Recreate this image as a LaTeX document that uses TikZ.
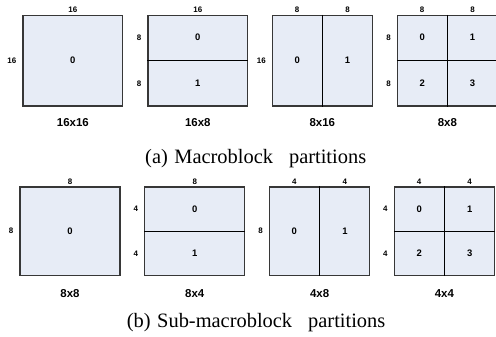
\documentclass[tikz,border=0pt]{standalone}
\usepackage{fontspec}
\setmainfont{Liberation Serif}
\newfontfamily\arialf{Liberation Sans}
\usetikzlibrary{calc}
\definecolor{blkfill}{RGB}{231,236,246}
\definecolor{blkedge}{RGB}{55,55,55}
\begin{document}
\begin{tikzpicture}[x=1bp,y=-1bp,
  blkA/.style={rectangle, draw=blkedge, line width=1.1bp, fill=blkfill, minimum width=99.7bp, minimum height=90.7bp, inner sep=0pt},
  blkB/.style={rectangle, draw=blkedge, line width=1.1bp, fill=blkfill, minimum width=100bp, minimum height=88.3bp, inner sep=0pt},
  divline/.style={draw=black, line width=0.9bp},
  num/.style={font=\arialf\bfseries\fontsize{9.5}{11}\selectfont, inner sep=0pt},
  dimlbl/.style={font=\arialf\bfseries\fontsize{8}{9}\selectfont, inner sep=0pt},
  toplbl/.style={dimlbl, above=2bp},
  leftlbl/.style={dimlbl, left=6bp},
  namelbl/.style={font=\arialf\bfseries\fontsize{11.5}{13}\selectfont, inner sep=0pt},
  captext/.style={font=\fontsize{20.5}{24}\selectfont, inner sep=0pt, anchor=base west}]
\fill[white] (0,0) rectangle (496,336);
\useasboundingbox (0,0) rectangle (496,336);

% ---------- top row ----------
\node[blkA] (T1) at (72.85,60.65) {};
\node[blkA] (T2) at (197.85,60.65) {};
\node[blkA] (T3) at (322.35,60.65) {};
\node[blkA] (T4) at (447.35,60.65) {};
\draw[divline] (T2.west) -- (T2.east);
\draw[divline] (T3.north) -- (T3.south);
\draw[divline] (T4.west) -- (T4.east);
\draw[divline] (T4.north) -- (T4.south);

% numbers
\node[num] (T1n0) at (T1.center) {0};
\node[num] (T2n0) at ($(T2.north)!0.5!(T2.center)$) {0};
\node[num] (T2n1) at ($(T2.south)!0.5!(T2.center)$) {1};
\node[num] (T3n0) at ($(T3.west)!0.5!(T3.center)$) {0};
\node[num] (T3n1) at ($(T3.east)!0.5!(T3.center)$) {1};
\node[num] (T4n0) at ($(T4.north west)!0.5!(T4.center)$) {0};
\node[num] (T4n1) at ($(T4.north east)!0.5!(T4.center)$) {1};
\node[num] (T4n2) at ($(T4.south west)!0.5!(T4.center)$) {2};
\node[num] (T4n3) at ($(T4.south east)!0.5!(T4.center)$) {3};

% dimension labels
\node[toplbl] (T1t) at (T1.north) {16};
\node[leftlbl] (T1l) at (T1.west) {16};
\node[toplbl] (T2t) at (T2.north) {16};
\node[leftlbl] (T2l0) at ($(T2.north west)!0.25!(T2.south west)$) {8};
\node[leftlbl] (T2l1) at ($(T2.north west)!0.75!(T2.south west)$) {8};
\node[toplbl] (T3t0) at ($(T3.north west)!0.25!(T3.north east)$) {8};
\node[toplbl] (T3t1) at ($(T3.north west)!0.75!(T3.north east)$) {8};
\node[leftlbl] (T3l) at (T3.west) {16};
\node[toplbl] (T4t0) at ($(T4.north west)!0.25!(T4.north east)$) {8};
\node[toplbl] (T4t1) at ($(T4.north west)!0.75!(T4.north east)$) {8};
\node[leftlbl] (T4l0) at ($(T4.north west)!0.25!(T4.south west)$) {8};
\node[leftlbl] (T4l1) at ($(T4.north west)!0.75!(T4.south west)$) {8};

% names
\node[namelbl] (T1name) at ($(T1.south)+(0,16)$) {16x16};
\node[namelbl] (T2name) at ($(T2.south)+(0,16)$) {16x8};
\node[namelbl] (T3name) at ($(T3.south)+(0,16)$) {8x16};
\node[namelbl] (T4name) at ($(T4.south)+(0,16)$) {8x8};

\node[captext] (capA) at (145,163) {(a)\hspace{6.5bp}Macroblock\hspace{16bp}partitions};

% ---------- bottom row ----------
\node[blkB] (B1) at (70,231.15) {};
\node[blkB] (B2) at (194.8,231.15) {};
\node[blkB] (B3) at (319.6,231.15) {};
\node[blkB] (B4) at (444.4,231.15) {};
\draw[divline] (B2.west) -- (B2.east);
\draw[divline] (B3.north) -- (B3.south);
\draw[divline] (B4.west) -- (B4.east);
\draw[divline] (B4.north) -- (B4.south);

\node[num] (B1n0) at (B1.center) {0};
\node[num] (B2n0) at ($(B2.north)!0.5!(B2.center)$) {0};
\node[num] (B2n1) at ($(B2.south)!0.5!(B2.center)$) {1};
\node[num] (B3n0) at ($(B3.west)!0.5!(B3.center)$) {0};
\node[num] (B3n1) at ($(B3.east)!0.5!(B3.center)$) {1};
\node[num] (B4n0) at ($(B4.north west)!0.5!(B4.center)$) {0};
\node[num] (B4n1) at ($(B4.north east)!0.5!(B4.center)$) {1};
\node[num] (B4n2) at ($(B4.south west)!0.5!(B4.center)$) {2};
\node[num] (B4n3) at ($(B4.south east)!0.5!(B4.center)$) {3};

\node[toplbl] (B1t) at (B1.north) {8};
\node[leftlbl] (B1l) at (B1.west) {8};
\node[toplbl] (B2t) at (B2.north) {8};
\node[leftlbl] (B2l0) at ($(B2.north west)!0.25!(B2.south west)$) {4};
\node[leftlbl] (B2l1) at ($(B2.north west)!0.75!(B2.south west)$) {4};
\node[toplbl] (B3t0) at ($(B3.north west)!0.25!(B3.north east)$) {4};
\node[toplbl] (B3t1) at ($(B3.north west)!0.75!(B3.north east)$) {4};
\node[leftlbl] (B3l) at (B3.west) {8};
\node[toplbl] (B4t0) at ($(B4.north west)!0.25!(B4.north east)$) {4};
\node[toplbl] (B4t1) at ($(B4.north west)!0.75!(B4.north east)$) {4};
\node[leftlbl] (B4l0) at ($(B4.north west)!0.25!(B4.south west)$) {4};
\node[leftlbl] (B4l1) at ($(B4.north west)!0.75!(B4.south west)$) {4};

\node[namelbl] (B1name) at ($(B1.south)+(0,17.4)$) {8x8};
\node[namelbl] (B2name) at ($(B2.south)+(0,17.4)$) {8x4};
\node[namelbl] (B3name) at ($(B3.south)+(0,17.4)$) {4x8};
\node[namelbl] (B4name) at ($(B4.south)+(0,17.4)$) {4x4};

\node[captext] (capB) at (126.7,327.7) {(b)\hspace{6.5bp}Sub-macroblock\hspace{16bp}partitions};
\end{tikzpicture}
\end{document}
